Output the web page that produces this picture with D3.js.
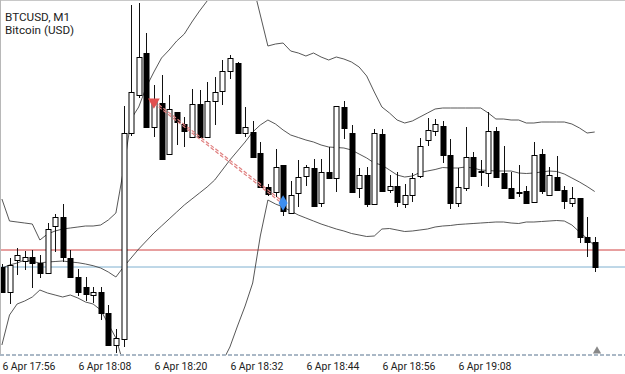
<!DOCTYPE html>
<html>
<head>
<meta charset="utf-8">
<script src="https://cdn.jsdelivr.net/npm/d3@7"></script>
<style>
  html, body { margin: 0; padding: 0; background: #fff; }
  #chart { width: 625px; height: 374px; }
  text { font-family: Roboto, "Noto Sans", sans-serif; }
</style>
</head>
<body>
<div id="chart"></div>
<script>
// BTCUSD M1 candles (prices in USD)
const opens = [28133,28108,28140,28139,28143,28137,28127,28174,28183,28142,28123,28113,28105,28108,28087,28055,
  28061,28267,28305,28347,28273,28297,28246,28288,28276,28263,28296,28263,28299,28309,28329,28337,28267,28268,
  28247,28213,28208,28235,28187,28207,28224,28232,28197,28228,28222,28293,28267,28212,28225,28196,
  28266,28210,28214,28196,28205,28224,28260,28269,28274,28245,28197,28212,28243,28229,28227,28269,28227,28212,
  28208,28209,28198,28246,28205,28223,28210,28197,28202,28163,28158];
const highs = [28136,28142,28152,28149,28150,28145,28177,28186,28196,28150,28131,28123,28113,28113,28095,28071,
  28294,28395,28397,28367,28315,28325,28305,28288,28283,28311,28310,28318,28323,28340,28345,28338,28293,28279,
  28258,28216,28251,28235,28219,28240,28235,28241,28241,28253,28294,28299,28275,28232,28233,28271,
  28271,28225,28228,28216,28227,28262,28282,28281,28279,28261,28232,28273,28248,28240,28288,28273,28254,28228,
  28235,28214,28258,28251,28233,28244,28214,28213,28202,28183,28163];
const lows = [28107,28096,28125,28130,28112,28122,28127,28148,28138,28123,28104,28099,28097,28080,28054,28047,
  28053,28264,28302,28273,28263,28241,28246,28255,28253,28263,28263,28263,28275,28295,28321,28266,28263,28243,
  28213,28204,28203,28184,28187,28193,28214,28194,28193,28222,28208,28261,28208,28202,28193,28196,
  28209,28207,28193,28192,28198,28222,28254,28264,28237,28191,28193,28209,28224,28214,28213,28222,28212,28202,
  28203,28197,28198,28206,28205,28210,28191,28193,28157,28143,28128];
const closes = [28108,28135,28145,28143,28137,28127,28171,28183,28143,28123,28108,28106,28108,28087,28055,28062,
  28267,28308,28343,28273,28300,28241,28291,28278,28269,28296,28263,28299,28308,28329,28342,28267,28273,28243,
  28213,28206,28233,28189,28205,28223,28233,28194,28228,28222,28294,28272,28208,28225,28196,28267,
  28209,28214,28198,28205,28222,28254,28270,28276,28245,28197,28213,28243,28224,28228,28269,28223,28212,28202,
  28207,28197,28245,28209,28225,28210,28199,28202,28163,28158,28133];

// Bollinger bands as shown on the chart
const bbUpper = [28201,28179,28178,28177,28176,28160,28166,28169,28171,28172,28173,28174,28174,28175,28180,28187,
  28230,28281,28293,28313,28328,28342,28350,28359,28366,28378,28389,28399,28408,28415,28420,28422,28420,28416,
  28385,28354,28356,28357,28349,28347,28344,28347,28343,28340,28343,28341,28338,28333,28324,28308,
  28293,28287,28280,28277,28279,28283,28287,28291,28292,28292,28292,28292,28292,28292,28287,28281,28281,28280,
  28280,28277,28277,28278,28278,28278,28278,28276,28272,28267,28268];
const bbMiddle = [28132,28135,28137,28140,28138.5,28137,28138,28138.5,28139,28138,28137.3,28136,28134.3,28132,28128,28123,
  28133,28142,28151,28159,28167,28174,28181,28188,28195,28201,28207,28213,28220,28230,28240,28249,28258,28268,
  28275,28280,28276,28270,28265,28262.5,28260,28258,28255,28253,28252.5,28252,28250,28246,28242,28237,
  28235,28230,28225,28223,28224,28227.5,28229,28230.5,28232.5,28232,28232,28233,28232,28230,28229.5,28229,28229,28229,
  28227,28226.5,28227,28228,28229,28228.5,28226,28222,28218,28213.5,28208.5];
const bbLower = [28055,28085,28096,28099,28103,28110,28107,28105,28103,28105,28102,28098,28096,28090,28076,28062,
  28036,28003,28009,28005,28006,28008,28012,28015,28020,28023,28026,28028,28032,28038,28053,28074,28094,28117,
  28164,28200,28196,28193,28189,28185,28182,28179,28176,28173.5,28171,28169,28166.5,28165,28163.5,28164,
  28171,28171.5,28170,28168.5,28169,28170,28171,28173,28174,28174.5,28175.5,28176,28176.5,28177,28177.5,28178,28178,28177,
  28176.5,28178,28178,28178.5,28179,28179.5,28179,28175,28168,28161.5,28154];

// time axis labels (every 10th bar)
const tickIdx = [0, 10, 20, 30, 40, 50, 60];
const tickLabels = ["6 Apr 17:56", "6 Apr 18:08", "6 Apr 18:20", "6 Apr 18:32", "6 Apr 18:44", "6 Apr 18:56", "6 Apr 19:08"];

// price lines and the closed trade
const askPrice = 28150;
const bidPrice = 28133;
const tradeIdx = [20, 37];
const tradePrice = [28298, 28197];

const W = 625, H = 374;
const plotBottom = 355;

const svg = d3.select("#chart").append("svg")
  .attr("width", W)
  .attr("height", H);

const x = d3.scaleLinear().domain([0, closes.length - 1]).range([1.9, 594.7]);
const y = d3.scaleLinear().domain([28045, 28400]).range([plotBottom, 0]);

svg.append("defs").append("clipPath").attr("id", "plot")
  .append("rect").attr("x", 1).attr("y", 1).attr("width", W - 1).attr("height", plotBottom - 1);

// frame
svg.append("line").attr("x1", 0).attr("x2", W).attr("y1", 0.5).attr("y2", 0.5)
  .attr("stroke", "#c8c8c8");
svg.append("line").attr("x1", 0.5).attr("x2", 0.5).attr("y1", 0).attr("y2", plotBottom)
  .attr("stroke", "#b8b8b8");

const g = svg.append("g").attr("clip-path", "url(#plot)");

// ask / bid lines
g.append("line").attr("x1", 0).attr("x2", W).attr("y1", y(askPrice)).attr("y2", y(askPrice))
  .attr("stroke", "#d04040").attr("stroke-width", 1);
g.append("line").attr("x1", 0).attr("x2", W).attr("y1", y(bidPrice)).attr("y2", y(bidPrice))
  .attr("stroke", "#7fb0d0").attr("stroke-width", 1);

// Bollinger bands
const bandLine = d3.line().x((d, i) => x(i)).y(d => y(d));
[bbUpper, bbMiddle, bbLower].forEach(arr => {
  g.append("path").datum(arr)
    .attr("d", bandLine)
    .attr("fill", "none")
    .attr("stroke", "#444")
    .attr("stroke-width", 0.9);
});

const bars = d3.range(closes.length).map(i => ({
  i, o: opens[i], h: highs[i], l: lows[i], c: closes[i]
}));
const bw = 5;

// wicks
g.selectAll(".wick").data(bars).join("line")
  .attr("class", "wick")
  .attr("x1", d => Math.round(x(d.i)) + 0.5)
  .attr("x2", d => Math.round(x(d.i)) + 0.5)
  .attr("y1", d => y(d.h))
  .attr("y2", d => y(d.l))
  .attr("stroke", "#111")
  .attr("stroke-width", 1);

// bodies
g.selectAll(".body").data(bars).join("rect")
  .attr("class", "body")
  .attr("x", d => Math.round(x(d.i)) - bw / 2 + 0.5)
  .attr("y", d => Math.round(y(Math.max(d.o, d.c))) + 0.5)
  .attr("width", bw)
  .attr("height", d => Math.max(1, Math.round(Math.abs(y(d.o) - y(d.c)))))
  .attr("fill", d => d.c >= d.o ? "#fff" : "#000")
  .attr("stroke", "#000")
  .attr("stroke-width", 1);

// trade line (two thin dashed strokes, pinkish red)
const tx1 = x(tradeIdx[0]), ty1 = y(tradePrice[0]);
const tx2 = x(tradeIdx[1]), ty2 = y(tradePrice[1]);
[-1.2, 1.2].forEach(off => {
  g.append("line")
    .attr("x1", tx1).attr("y1", ty1 + off)
    .attr("x2", tx2).attr("y2", ty2 + off)
    .attr("stroke", "#e08080")
    .attr("stroke-width", 1.2)
    .attr("stroke-dasharray", "4,2");
});

g.append("path")
  .attr("d", d3.symbol(d3.symbolTriangle, 60)())
  .attr("transform", `translate(${tx1},${ty1}) rotate(180)`)
  .attr("fill", "#e05050");
g.append("path")
  .attr("d", d3.symbol(d3.symbolDiamond, 70)())
  .attr("transform", `translate(${tx2},${ty2})`)
  .attr("fill", "#3d8ef0");

// bottom border (dashed)
svg.append("line").attr("x1", 0).attr("x2", W).attr("y1", plotBottom).attr("y2", plotBottom)
  .attr("stroke", "#aab8c6").attr("stroke-width", 2).attr("stroke-dasharray", "4,2");

// chart shift marker
svg.append("path")
  .attr("d", d3.symbol(d3.symbolTriangle, 30)())
  .attr("transform", `translate(597,${plotBottom - 4})`)
  .attr("fill", "#888");

// time axis
const axis = svg.append("g")
  .attr("transform", `translate(0,${plotBottom})`)
  .call(d3.axisBottom(x).tickValues(tickIdx).tickFormat((d, k) => tickLabels[k]).tickSize(0).tickPadding(8));
axis.select(".domain").remove();
axis.selectAll("text")
  .attr("text-anchor", "start")
  .attr("fill", "#222")
  .style("font-size", "10.4px")
  .style("font-family", "Roboto, sans-serif");

// symbol caption
svg.append("text").attr("x", 5).attr("y", 20.5)
  .attr("fill", "#222").style("font-size", "11.7px")
  .text("BTCUSD, M1");
svg.append("text").attr("x", 5).attr("y", 34)
  .attr("fill", "#222").style("font-size", "11.7px")
  .text("Bitcoin (USD)");
</script>
</body>
</html>
